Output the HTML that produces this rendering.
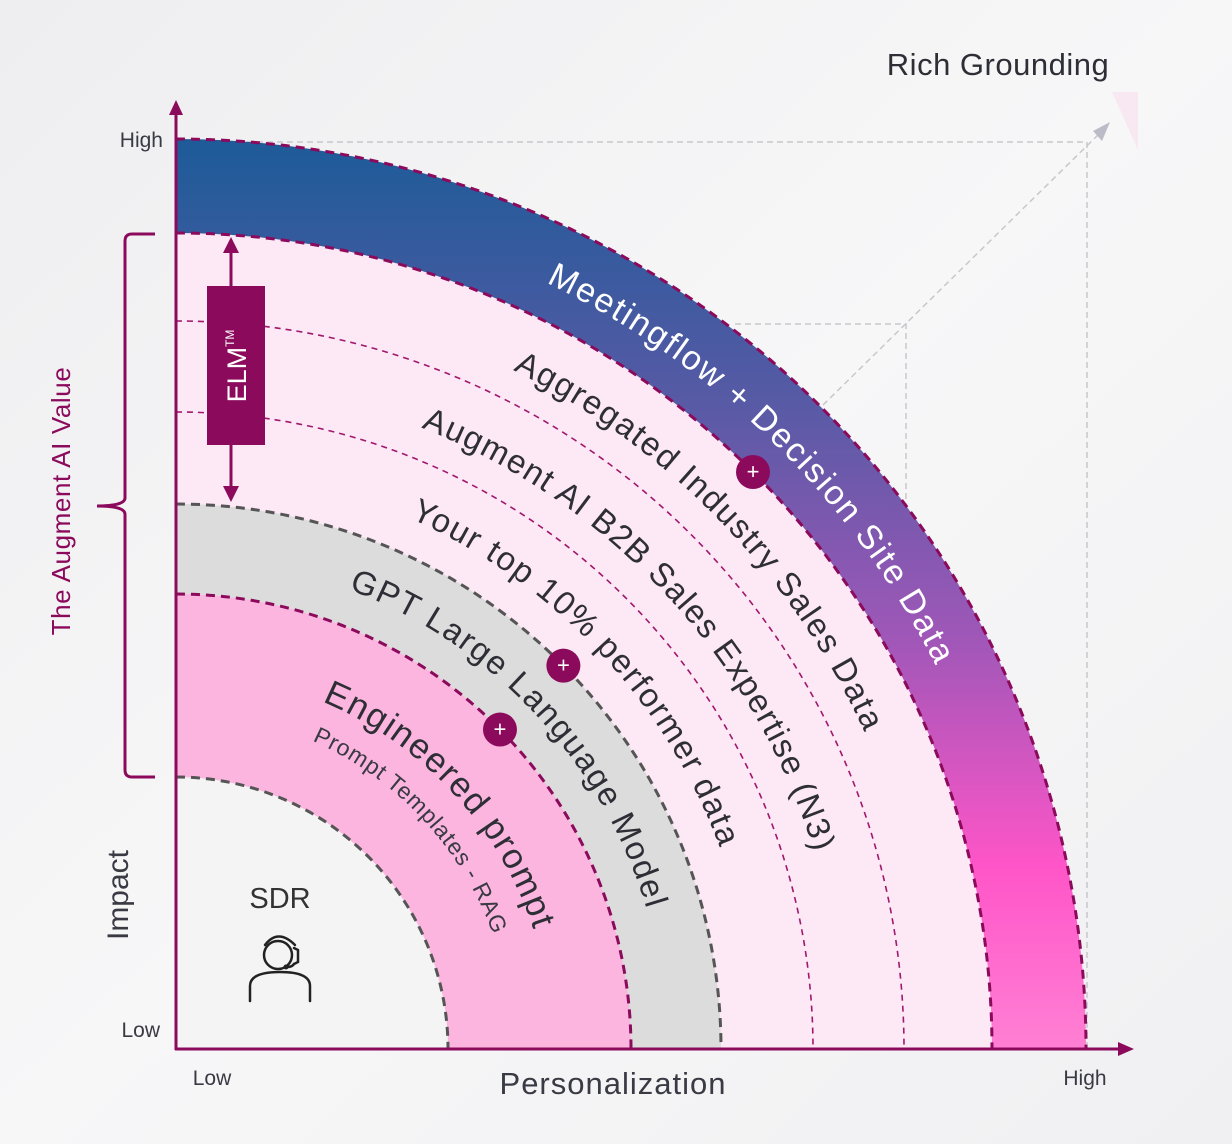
<!DOCTYPE html>
<html><head><meta charset="utf-8">
<style>
html,body{margin:0;padding:0;}
body{width:1232px;height:1144px;overflow:hidden;background:#f2f2f4;font-family:"Liberation Sans",sans-serif;}
svg{display:block}
</style></head>
<body>
<svg id="chart" width="1232" height="1144" viewBox="0 0 1232 1144" xmlns="http://www.w3.org/2000/svg">
<defs>
<linearGradient id="bg" x1="0" y1="0" x2="1" y2="1">
<stop offset="0" stop-color="#eeeef0"/><stop offset="0.5" stop-color="#f7f7f8"/><stop offset="1" stop-color="#f0f0f2"/>
</linearGradient>
<linearGradient id="band" gradientUnits="userSpaceOnUse" x1="0" y1="140" x2="0" y2="1049">
<stop offset="0" stop-color="#1d5b98"/>
<stop offset="0.3" stop-color="#5a5aa6"/>
<stop offset="0.55" stop-color="#a057b8"/>
<stop offset="0.8" stop-color="#ff55c8"/>
<stop offset="1" stop-color="#ff80d4"/>
</linearGradient>
</defs>
<rect width="1232" height="1144" fill="url(#bg)"/>
<path d="M1112,92 L1138,92 L1138,150 z" fill="#f6e4ef" opacity="0.8"/>
<g id="guides" fill="none" stroke="#c8c8cc" stroke-width="1.5" stroke-dasharray="6,4">
<path d="M177,142 H1087 V1049"/>
<path d="M735,324 H906 V1049"/>
<path d="M823,405 L1100,133"/>
</g>
<path d="M1110,122 L1093,131 L1102,141 z" fill="#bcbcc8"/>
<g id="rings"></g>
<g id="labels"></g>
<g id="plus"></g>
<line x1="176" y1="1050" x2="176" y2="113" stroke="#8c0a5c" stroke-width="3"/>
<path d="M176,100 L169,115 L183,115 z" fill="#8c0a5c"/>
<line x1="175" y1="1049" x2="1120" y2="1049" stroke="#8c0a5c" stroke-width="3"/>
<path d="M1134,1049 L1118,1042 L1118,1056 z" fill="#8c0a5c"/>
<text x="163" y="147" text-anchor="end" font-size="21" fill="#3a3a44">High</text>
<text x="160" y="1037" text-anchor="end" font-size="21" fill="#3a3a44">Low</text>
<text x="212" y="1085" text-anchor="middle" font-size="21" fill="#3a3a44">Low</text>
<text x="1085" y="1085" text-anchor="middle" font-size="21" fill="#3a3a44">High</text>
<text x="613" y="1094" text-anchor="middle" font-size="31" letter-spacing="1" fill="#3a3a44">Personalization</text>
<text transform="translate(128,895) rotate(-90)" text-anchor="middle" font-size="30" fill="#3a3a44">Impact</text>
<text x="998" y="75" text-anchor="middle" font-size="31" letter-spacing="0.5" fill="#2e2e36">Rich Grounding</text>
<text transform="translate(70,501) rotate(-90)" text-anchor="middle" font-size="26" letter-spacing="0.6" fill="#8c0a5c">The Augment AI Value</text>
<path d="M155,234 H132 Q125,234 125,241 V498 Q125,506 97,506 Q125,506 125,514 V770 Q125,777 132,777 H155" fill="none" stroke="#8c0a5c" stroke-width="3"/>
<line x1="231" y1="250" x2="231" y2="490" stroke="#8c0a5c" stroke-width="3"/>
<path d="M231,237 L223,253 L239,253 z" fill="#8c0a5c"/>
<path d="M231,502 L223,486 L239,486 z" fill="#8c0a5c"/>
<rect x="207" y="286" width="58" height="159" fill="#8c0a5c"/>
<text transform="translate(246,366) rotate(-90)" text-anchor="middle" font-size="27" fill="#fff">ELM<tspan font-size="12" dy="-12">TM</tspan></text>
<text x="280" y="908" text-anchor="middle" font-size="29" fill="#333">SDR</text>
<g fill="none" stroke="#222" stroke-width="2.5" stroke-linecap="round">
<circle cx="278" cy="955" r="14"/>
<path d="M265,945 Q278,928 295,945"/>
<path d="M294,948 L298,950 L298,962 L294,964"/>
<path d="M294,964 Q292,967 287,967"/>
<path d="M250,1001 V986 Q250,972 280,972 Q310,972 310,986 V1001"/>
</g>
<circle cx="286" cy="967" r="2.5" fill="#222"/>
<script>
var OX=176, OY=1049;
// ring radii (outer edges of regions, px from origin)
var ringNames=['pink-band-gradient','aggregated-band','augment-band','top10-band','gpt-band','engineered-band','sdr-core'];
var ringRadii=[910,816,728,637,545,455,272];
var ringFills=['url(#band)','#fde8f5','#fde8f5','#fde8f5','#dcdcdc','#fbb5df','#f4f4f5'];
var ringStroke=['#8c0a5c','#8c0a5c','#a0186c','#a0186c','#555','#8c0a5c','#555'];
var ringWidth=[3,3,1.6,1.6,3,3,3];
var ringDash=['9,6','9,6','6,5','6,5','9,6','9,6','9,6'];
var labelTexts=['Meetingflow + Decision Site Data','Aggregated Industry Sales Data','Augment AI B2B Sales Expertise (N3)','Your top 10% performer data','GPT Large Language Model','Engineered prompt','Prompt Templates - RAG'];
var labelRadii=[851,758,668,580,491,377,337];
var labelPos=[49.5,51,52.5,52,52.3,52.5,52.3];
var labelSizes=[34,33,33,33,33,35,23];
var labelSpacing=[1.8,1.6,1.3,1.6,1.6,1.4,0.8];
var labelColors=['#ffffff','#2e2e36','#2e2e36','#2e2e36','#2e2e36','#2e2e36','#3a3a44'];
var plusRadii=[816,545,455];
var plusAngles=[45,44.7,44.6];
var NS='http://www.w3.org/2000/svg';
function px(r,a){return OX+r*Math.cos(a*Math.PI/180);}
function py(r,a){return OY-r*Math.sin(a*Math.PI/180);}
function sector(r){return 'M'+OX+','+OY+' L'+OX+','+(OY-r)+' A'+r+','+r+' 0 0 1 '+(OX+r)+','+OY+' Z';}
function arc(r){return 'M'+OX+','+(OY-r)+' A'+r+','+r+' 0 0 1 '+(OX+r)+','+OY;}
var rings=document.getElementById('rings');
ringRadii.forEach(function(r,i){
 var p=document.createElementNS(NS,'path');
 p.setAttribute('d',sector(r));p.setAttribute('fill',ringFills[i]);
 
 
 rings.appendChild(p);
});
ringRadii.forEach(function(r,i){
 var p=document.createElementNS(NS,'path');
 p.setAttribute('d',arc(r));p.setAttribute('fill','none');
 p.setAttribute('stroke',ringStroke[i]);p.setAttribute('stroke-width',ringWidth[i]);
 p.setAttribute('stroke-dasharray',ringDash[i]);
 
 
 rings.appendChild(p);
});
var labels=document.getElementById('labels');
labelTexts.forEach(function(t,i){
 var p=document.createElementNS(NS,'path');
 p.setAttribute('id','lp'+i);p.setAttribute('d',arc(labelRadii[i]));p.setAttribute('fill','none');
 labels.appendChild(p);
 var tx=document.createElementNS(NS,'text');
 tx.setAttribute('font-size',labelSizes[i]);tx.setAttribute('fill',labelColors[i]);
 tx.setAttribute('letter-spacing',labelSpacing[i]);
 tx.setAttribute('text-anchor','middle');
 
 
 var tp=document.createElementNS(NS,'textPath');
 tp.setAttribute('href','#lp'+i);tp.setAttribute('startOffset',labelPos[i]+'%');
 tp.textContent=t;tx.appendChild(tp);labels.appendChild(tx);
});
var plus=document.getElementById('plus');
plusRadii.forEach(function(r,i){
 var g=document.createElementNS(NS,'g');
 
 
 var cx=px(r,plusAngles[i]),cy=py(r,plusAngles[i]);
 var c=document.createElementNS(NS,'circle');
 c.setAttribute('cx',cx);c.setAttribute('cy',cy);c.setAttribute('r',17);c.setAttribute('fill','#8c0a5c');
 g.appendChild(c);
 var t=document.createElementNS(NS,'text');
 t.setAttribute('x',cx);t.setAttribute('y',cy+7);t.setAttribute('text-anchor','middle');
 t.setAttribute('font-size',22);t.setAttribute('fill','#fff');t.textContent='+';
 g.appendChild(t);plus.appendChild(g);
});
</script>
</svg>
</body></html>
